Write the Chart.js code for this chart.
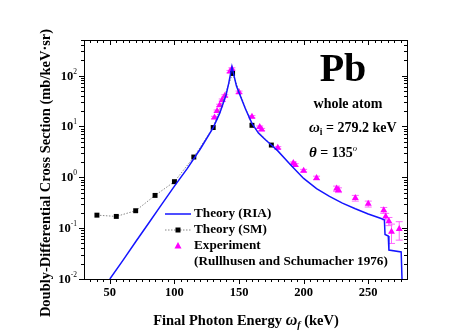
<!DOCTYPE html>
<html>
<head>
<meta charset="utf-8">
<script src="https://cdn.jsdelivr.net/npm/chart.js@4.4.1/dist/chart.umd.min.js"></script>
<style>
html, body { margin: 0; padding: 0; background: #fff; }
</style>
</head>
<body>
<canvas id="chart" width="473" height="335"></canvas>
<script>
// Theory (RIA) curve
var riaE = [50, 60, 70, 80, 90, 100, 110, 120, 130, 135, 140, 142, 144.5, 146.5, 148, 150, 155, 160, 165, 170, 175, 180, 190, 200, 210, 220, 230, 240, 250, 260, 262.5, 263, 265.5, 266, 275.5, 276.5];
var riaY = [0.01, 0.023, 0.054, 0.125, 0.29, 0.67, 1.5, 3.6, 9.5, 18, 42, 70, 150, 90, 62, 46, 22, 11.5, 7.4, 5.6, 4.3, 3.3, 1.75, 0.95, 0.6, 0.42, 0.31, 0.24, 0.19, 0.155, 0.145, 0.075, 0.07, 0.037, 0.034, 0.005];

// Theory (SM)
var smE = [40, 55, 70, 85, 100, 115, 130, 145, 160, 175];
var smY = [0.18, 0.17, 0.22, 0.44, 0.82, 2.5, 9.5, 110, 10.5, 4.3];

// Experiment (Rullhusen and Schumacher 1976)
var expE = [131, 133, 135, 137, 139, 143, 144.5, 150, 160, 166, 167.5, 180, 192, 193.5, 200, 210, 225.5, 227, 240, 250, 262, 263.5, 266, 268, 274];
var expY = [15, 20, 26, 33, 40, 120, 135, 47, 15.5, 9.7, 8.7, 3.8, 1.9, 1.75, 1.35, 0.97, 0.6, 0.56, 0.39, 0.30, 0.225, 0.17, 0.137, 0.085, 0.096];
var expErr = [0.8, 1, 1.3, 1.6, 2, 6, 7, 2.5, 0.8, 0.5, 0.45, 0.2, 0.1, 0.1, 0.08, 0.08, 0.07, 0.06, 0.05, 0.04, 0.03, 0.025, 0.025, 0.035, 0.038];

// axis ticks
var xTicks = [50, 100, 150, 200, 250];
var yTicks = [0.01, 0.1, 1, 10, 100];
var yTickExp = ['-2', '-1', '0', '1', '2'];

var SERIF = '"Liberation Serif", "Times New Roman", serif';

function pts(xs, ys) {
    return xs.map(function (x, i) { return { x: x, y: ys[i] }; });
}

// draw a run of text pieces: [text, font, dy]
function rich(ctx, x, y, parts, align) {
    var w = 0;
    parts.forEach(function (p) { ctx.font = p[1]; w += ctx.measureText(p[0]).width; });
    var cx = align === 'center' ? x - w / 2 : x;
    ctx.textAlign = 'left';
    parts.forEach(function (p) {
        ctx.font = p[1];
        ctx.fillText(p[0], cx, y + (p[2] || 0));
        cx += ctx.measureText(p[0]).width;
    });
}

var errorBars = {
    id: 'errorBars',
    beforeDatasetDraw: function (chart, args) {
        if (args.index !== 2) return;
        var ctx = chart.ctx, x = chart.scales.x, y = chart.scales.y;
        ctx.save();
        ctx.strokeStyle = '#ff66ff';
        ctx.lineWidth = 1;
        expE.forEach(function (e, i) {
            var px = x.getPixelForValue(e);
            var lo = y.getPixelForValue(Math.max(expY[i] - expErr[i], 0.001));
            var hi = y.getPixelForValue(expY[i] + expErr[i]);
            ctx.beginPath();
            ctx.moveTo(px, lo); ctx.lineTo(px, hi);
            ctx.moveTo(px - 3.5, lo); ctx.lineTo(px + 3.5, lo);
            ctx.moveTo(px - 3.5, hi); ctx.lineTo(px + 3.5, hi);
            ctx.stroke();
        });
        ctx.restore();
    }
};

var frame = {
    id: 'frame',
    afterDraw: function (chart) {
        var ctx = chart.ctx, a = chart.chartArea;
        var x = chart.scales.x, y = chart.scales.y;
        ctx.save();
        ctx.strokeStyle = '#000';
        ctx.lineWidth = 1;
        ctx.strokeRect(a.left + 0.5, a.top + 0.5, a.right - a.left, a.bottom - a.top);

        // x ticks: bottom outward, top inward
        ctx.beginPath();
        for (var v = 35; v < 280; v += 5) {
            var px = Math.round(x.getPixelForValue(v)) + 0.5;
            var len = (v % 50 === 0) ? 5 : 3;
            ctx.moveTo(px, a.bottom); ctx.lineTo(px, a.bottom + len);
            ctx.moveTo(px, a.top); ctx.lineTo(px, a.top + len);
        }
        // y ticks: left outward, right inward
        for (var d = -2; d <= 2; d++) {
            for (var m = 1; m <= 9; m++) {
                var val = m * Math.pow(10, d);
                if (val > 500) break;
                var py = Math.round(y.getPixelForValue(val)) + 0.5;
                var l = (m === 1) ? 5 : 3;
                ctx.moveTo(a.left - l, py); ctx.lineTo(a.left, py);
                ctx.moveTo(a.right - l, py); ctx.lineTo(a.right, py);
            }
        }
        ctx.stroke();

        ctx.fillStyle = '#000';
        ctx.textBaseline = 'alphabetic';
        // x tick labels
        ctx.font = 'bold 12.5px ' + SERIF;
        ctx.textAlign = 'center';
        xTicks.forEach(function (t) {
            ctx.fillText(String(t), x.getPixelForValue(t), 296);
        });
        // y tick labels 10^n
        yTicks.forEach(function (t, i) {
            var py = y.getPixelForValue(t);
            ctx.font = '7.5px ' + SERIF;
            var ew = ctx.measureText(yTickExp[i]).width;
            ctx.font = 'bold 12.5px ' + SERIF;
            var bw = ctx.measureText('10').width;
            var right = 77;
            ctx.textAlign = 'left';
            ctx.fillText('10', right - ew - bw, py + 4);
            ctx.font = '7.5px ' + SERIF;
            ctx.fillText(yTickExp[i], right - ew, py - 2);
        });

        // axis titles
        ctx.save();
        ctx.translate(45, 173);
        ctx.rotate(-Math.PI / 2);
        ctx.font = 'bold 14.5px ' + SERIF;
        ctx.textAlign = 'center';
        ctx.fillText('Doubly-Differential Cross Section (mb/keV\u00b7sr)', 0, 5);
        ctx.restore();

        rich(ctx, 246, 325, [
            ['Final Photon Energy ', 'bold 14.5px ' + SERIF],
            ['\u03c9', 'italic bold 16px ' + SERIF],
            ['f', 'italic bold 10px ' + SERIF, 3],
            [' (keV)', 'bold 14.5px ' + SERIF]
        ], 'center');

        // annotations
        ctx.font = 'bold 40px ' + SERIF;
        ctx.textAlign = 'center';
        ctx.fillText('Pb', 343, 81);
        ctx.font = 'bold 14px ' + SERIF;
        ctx.fillText('whole atom', 348, 108);
        rich(ctx, 309, 132, [
            ['\u03c9', 'italic bold 15px ' + SERIF],
            ['i', 'bold 9.5px ' + SERIF, 3],
            [' = 279.2 keV', 'bold 14px ' + SERIF]
        ]);
        rich(ctx, 309, 157, [
            ['\u03b8', 'italic bold 15px ' + SERIF],
            [' = 135', 'bold 14px ' + SERIF],
            ['o', 'italic 8.5px ' + SERIF, -6]
        ]);

        // legend
        var lx1 = 165, lx2 = 191, tx = 194;
        var rows = [214, 230, 246, 262];
        ctx.font = 'bold 13.2px ' + SERIF;
        ctx.textAlign = 'left';
        ctx.textBaseline = 'middle';
        ctx.fillText('Theory (RIA)', tx, rows[0]);
        ctx.fillText('Theory (SM)', tx, rows[1]);
        ctx.fillText('Experiment', tx, rows[2]);
        ctx.fillText('(Rullhusen and Schumacher 1976)', tx, rows[3]);

        ctx.strokeStyle = '#1414ff';
        ctx.lineWidth = 1.5;
        ctx.beginPath(); ctx.moveTo(lx1, rows[0]); ctx.lineTo(lx2, rows[0]); ctx.stroke();
        ctx.strokeStyle = '#888';
        ctx.lineWidth = 1;
        ctx.setLineDash([1.5, 1.5]);
        ctx.beginPath(); ctx.moveTo(lx1, rows[1]); ctx.lineTo(lx2, rows[1]); ctx.stroke();
        ctx.setLineDash([]);
        ctx.fillStyle = '#000';
        ctx.fillRect(175.5, rows[1] - 2.5, 5, 5);
        ctx.fillStyle = '#ff00ff';
        ctx.beginPath();
        ctx.moveTo(178, rows[2] - 4); ctx.lineTo(181.5, rows[2] + 2.5); ctx.lineTo(174.5, rows[2] + 2.5);
        ctx.closePath(); ctx.fill();
        ctx.restore();
    }
};

new Chart(document.getElementById('chart'), {
    type: 'line',
    data: {
        datasets: [{
            label: 'Theory (RIA)',
            data: pts(riaE, riaY),
            borderColor: '#1414ff',
            borderWidth: 1.5,
            pointRadius: 0,
            tension: 0,
            fill: false
        }, {
            label: 'Theory (SM)',
            data: pts(smE, smY),
            borderColor: '#888',
            borderWidth: 1,
            borderDash: [1.5, 1.5],
            pointStyle: 'rect',
            pointRadius: 3.5,
            pointBackgroundColor: '#000',
            pointBorderColor: '#000',
            pointBorderWidth: 0,
            tension: 0,
            fill: false
        }, {
            label: 'Experiment',
            data: pts(expE, expY),
            showLine: false,
            pointStyle: 'triangle',
            pointRadius: 4,
            pointBackgroundColor: '#ff00ff',
            pointBorderColor: '#ff00ff',
            pointBorderWidth: 0
        }]
    },
    options: {
        responsive: false,
        devicePixelRatio: 1,
        animation: false,
        layout: { padding: { top: 40, right: 66, left: 0, bottom: 0 } },
        plugins: { legend: { display: false }, tooltip: { enabled: false } },
        scales: {
            x: {
                type: 'linear', min: 30, max: 280,
                ticks: { display: false },
                grid: { display: false },
                border: { display: false },
                afterFit: function (s) { s.height = 56; }
            },
            y: {
                type: 'logarithmic', min: 0.01, max: 500,
                ticks: { display: false },
                grid: { display: false },
                border: { display: false },
                afterFit: function (s) { s.width = 84; }
            }
        }
    },
    plugins: [errorBars, frame]
});
</script>
</body>
</html>
